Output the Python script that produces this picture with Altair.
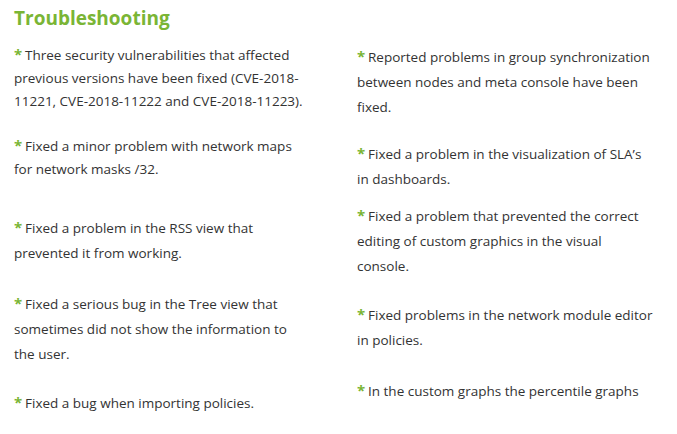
import altair as alt
import pandas as pd

TITLE = "Troubleshooting"
GREEN = "#7ab535"
GREY = "#333333"

left_lines = [
    ("*", "Three security vulnerabilities that affected", 56),
    ("", "previous versions have been fixed (CVE-2018-", 79),
    ("", "11221, CVE-2018-11222 and CVE-2018-11223).", 102),
    ("*", "Fixed a minor problem with network maps", 147),
    ("", "for network masks /32.", 170),
    ("*", "Fixed a problem in the RSS view that", 229),
    ("", "prevented it from working.", 254),
    ("*", "Fixed a serious bug in the Tree view that", 305),
    ("", "sometimes did not show the information to", 330),
    ("", "the user.", 355),
    ("*", "Fixed a bug when importing policies.", 404),
]
right_lines = [
    ("*", "Reported problems in group synchronization", 58),
    ("", "between nodes and meta console have been", 83),
    ("", "fixed.", 108),
    ("*", "Fixed a problem in the visualization of SLA’s", 155),
    ("", "in dashboards.", 180),
    ("*", "Fixed a problem that prevented the correct", 217),
    ("", "editing of custom graphics in the visual", 242),
    ("", "console.", 267),
    ("*", "Fixed problems in the network module editor", 316),
    ("", "in policies.", 341),
    ("*", "In the custom graphs the percentile graphs", 392),
]

body_rows, star_rows = [], []
for lines, x in [(left_lines, 14), (right_lines, 357)]:
    for star, line, y in lines:
        body_rows.append({"px": x + (11 if star else 0), "py": y, "label": line})
        if star:
            star_rows.append({"px": x, "py": y, "label": star})

W, H = 661, 418
xs = alt.Scale(domain=[8, 8 + W], range=[0, W])
ys = alt.Scale(domain=[8, 8 + H], range=[0, H])
X = alt.X("px:Q", scale=xs, axis=None)
Y = alt.Y("py:Q", scale=ys, axis=None)

body = alt.Chart(pd.DataFrame(body_rows)).mark_text(
    align="left", baseline="middle", font="Open Sans", fontSize=13.5, color=GREY
).encode(x=X, y=Y, text="label:N")
stars = alt.Chart(pd.DataFrame(star_rows)).mark_text(
    align="left", baseline="middle", font="Open Sans", fontSize=15,
    fontWeight="bold", color=GREEN, dy=-1
).encode(x=X, y=Y, text="label:N")
title = alt.Chart(pd.DataFrame([{"px": 14, "py": 19, "label": TITLE}])).mark_text(
    align="left", baseline="middle", font="Open Sans", fontSize=19,
    fontWeight="bold", color=GREEN
).encode(x=X, y=Y, text="label:N")

chart = (title + stars + body).properties(
    width=W, height=H, padding=0, autosize="none"
).configure_view(stroke=None)
chart.save("out.html", embed_options={"renderer": "svg", "actions": False})
